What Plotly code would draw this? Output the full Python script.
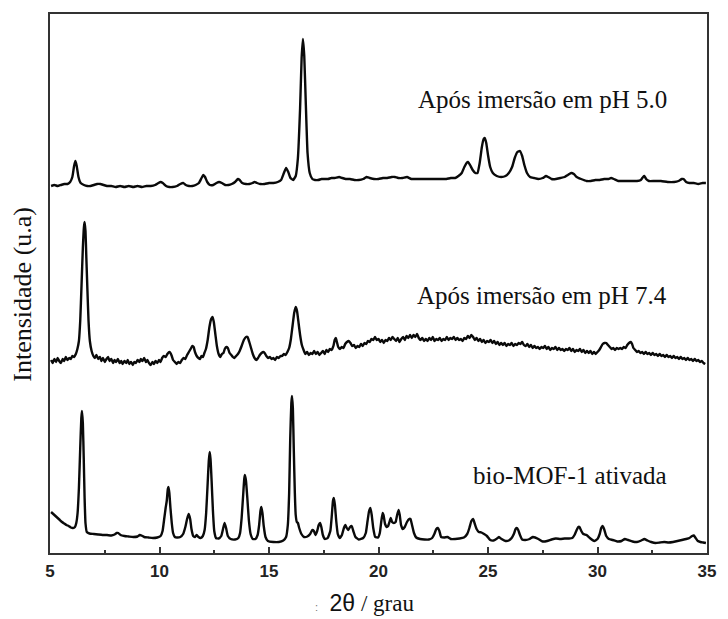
import plotly.graph_objects as go

# XRD patterns: (2θ in degrees, intensity in a.u. as stacked in the figure)
ph50_points = [
    (5.05, 367), (5.2, 368), (5.35, 367), (5.5, 368), (5.65, 369), (5.8, 369), (5.92, 371), (6.02, 376),
    (6.1, 387), (6.16, 392), (6.22, 387), (6.3, 376), (6.4, 370), (6.55, 368), (6.7, 367), (6.85, 367),
    (7.0, 368), (7.15, 369), (7.3, 369), (7.45, 368), (7.6, 367), (7.8, 367), (8.0, 366), (8.2, 367),
    (8.4, 366), (8.6, 367), (8.8, 366), (9.0, 367), (9.2, 366), (9.4, 367), (9.6, 367), (9.8, 368),
    (9.95, 370), (10.05, 371), (10.15, 370), (10.3, 367), (10.45, 366), (10.6, 366), (10.8, 367),
    (10.95, 369), (11.08, 370), (11.2, 368), (11.35, 367), (11.5, 367), (11.65, 368), (11.8, 370),
    (11.92, 375), (12.0, 378), (12.08, 376), (12.18, 371), (12.3, 368), (12.45, 368), (12.6, 370),
    (12.72, 371), (12.85, 370), (13.0, 368), (13.15, 368), (13.3, 369), (13.45, 371), (13.58, 374),
    (13.66, 373), (13.78, 370), (13.95, 369), (14.1, 369), (14.25, 370), (14.34, 371), (14.45, 370),
    (14.6, 369), (14.8, 369), (15.0, 370), (15.2, 370), (15.4, 371), (15.55, 373), (15.68, 380),
    (15.78, 385), (15.88, 381), (15.98, 375), (16.1, 373), (16.22, 377), (16.32, 395), (16.42, 445),
    (16.49, 495), (16.55, 514), (16.61, 497), (16.68, 450), (16.76, 400), (16.86, 380), (16.98, 374),
    (17.1, 373), (17.25, 373), (17.4, 374), (17.55, 374), (17.7, 374), (17.85, 375), (18.0, 375),
    (18.2, 376), (18.35, 375), (18.5, 374), (18.7, 374), (18.9, 373), (19.1, 373), (19.3, 374),
    (19.45, 376), (19.6, 375), (19.8, 374), (20.0, 374), (20.2, 375), (20.4, 375), (20.6, 376),
    (20.75, 376), (20.9, 375), (21.1, 375), (21.3, 376), (21.5, 374), (21.7, 374), (21.9, 374),
    (22.1, 374), (22.3, 374), (22.5, 374), (22.7, 374), (22.9, 374), (23.1, 374), (23.3, 375),
    (23.5, 375), (23.65, 377), (23.8, 380), (23.92, 386), (24.02, 390), (24.09, 391), (24.18, 388),
    (24.3, 383), (24.42, 380), (24.52, 380), (24.62, 390), (24.72, 406), (24.8, 414), (24.85, 415),
    (24.92, 410), (25.0, 398), (25.1, 386), (25.22, 380), (25.4, 377), (25.6, 376), (25.8, 377),
    (25.95, 380), (26.1, 386), (26.22, 395), (26.34, 401), (26.46, 402), (26.56, 397), (26.66, 388),
    (26.78, 380), (26.92, 376), (27.1, 375), (27.3, 374), (27.5, 375), (27.65, 377), (27.75, 376),
    (27.9, 374), (28.1, 374), (28.3, 375), (28.5, 376), (28.65, 378), (28.8, 380), (28.92, 379),
    (29.05, 376), (29.25, 374), (29.5, 372), (29.7, 372), (29.9, 373), (30.1, 373), (30.3, 374),
    (30.5, 374), (30.62, 375), (30.75, 374), (30.95, 372), (31.2, 372), (31.5, 372), (31.8, 372),
    (31.98, 373), (32.08, 376), (32.14, 377), (32.22, 374), (32.35, 372), (32.6, 372), (32.9, 372),
    (33.2, 371), (33.5, 371), (33.7, 372), (33.85, 374), (33.93, 374), (34.05, 371), (34.2, 370),
    (34.4, 370), (34.6, 369), (34.8, 370), (34.95, 370),
]

ph74_points = [
    (5.05, 193), (5.12, 190), (5.2, 194), (5.28, 191), (5.35, 195), (5.42, 192), (5.5, 190), (5.58, 194),
    (5.65, 192), (5.72, 196), (5.8, 193), (5.88, 195), (5.95, 194), (6.02, 197), (6.1, 196), (6.18, 199),
    (6.25, 204), (6.32, 212), (6.38, 232), (6.44, 268), (6.5, 305), (6.55, 326), (6.58, 331), (6.62, 322),
    (6.66, 295), (6.71, 262), (6.76, 232), (6.82, 212), (6.9, 202), (6.98, 197), (7.05, 195), (7.12, 198),
    (7.2, 194), (7.28, 196), (7.35, 192), (7.42, 195), (7.5, 191), (7.58, 194), (7.65, 196), (7.72, 192),
    (7.8, 194), (7.88, 190), (7.95, 193), (8.02, 191), (8.1, 194), (8.18, 190), (8.25, 192), (8.32, 189),
    (8.4, 192), (8.48, 190), (8.55, 193), (8.62, 189), (8.7, 191), (8.78, 188), (8.85, 191), (8.92, 190),
    (9.0, 193), (9.08, 191), (9.15, 194), (9.22, 192), (9.3, 195), (9.38, 191), (9.45, 193), (9.52, 190),
    (9.6, 188), (9.68, 191), (9.75, 189), (9.82, 192), (9.9, 190), (9.98, 193), (10.05, 191), (10.12, 195),
    (10.2, 197), (10.28, 196), (10.36, 199), (10.44, 201), (10.5, 200), (10.56, 197), (10.62, 193),
    (10.7, 191), (10.78, 189), (10.86, 191), (10.94, 190), (11.02, 193), (11.1, 195), (11.18, 194),
    (11.26, 198), (11.34, 201), (11.42, 204), (11.5, 207), (11.56, 206), (11.62, 201), (11.7, 197),
    (11.78, 195), (11.85, 194), (11.92, 197), (11.98, 196), (12.05, 200), (12.12, 204), (12.2, 213),
    (12.28, 226), (12.36, 234), (12.42, 236), (12.48, 231), (12.55, 219), (12.62, 207), (12.7, 199),
    (12.78, 196), (12.85, 199), (12.92, 200), (12.98, 204), (13.05, 206), (13.12, 205), (13.2, 200),
    (13.28, 198), (13.35, 196), (13.42, 195), (13.5, 197), (13.58, 199), (13.66, 202), (13.75, 207),
    (13.85, 213), (13.95, 216), (14.02, 216), (14.1, 211), (14.18, 205), (14.26, 199), (14.34, 195),
    (14.42, 193), (14.5, 195), (14.58, 198), (14.66, 200), (14.74, 201), (14.8, 200), (14.88, 197),
    (14.96, 195), (15.04, 196), (15.12, 194), (15.2, 195), (15.28, 193), (15.36, 196), (15.44, 195),
    (15.52, 197), (15.6, 197), (15.68, 199), (15.76, 198), (15.84, 201), (15.92, 205), (16.0, 214),
    (16.08, 228), (16.15, 240), (16.22, 246), (16.28, 242), (16.35, 230), (16.42, 218), (16.5, 208),
    (16.58, 203), (16.66, 199), (16.74, 201), (16.82, 198), (16.9, 200), (16.98, 199), (17.06, 202),
    (17.14, 199), (17.22, 201), (17.3, 198), (17.38, 200), (17.46, 202), (17.54, 199), (17.62, 203),
    (17.7, 201), (17.78, 204), (17.86, 203), (17.94, 207), (18.0, 213), (18.05, 215), (18.1, 211),
    (18.16, 206), (18.24, 204), (18.32, 206), (18.4, 205), (18.48, 209), (18.56, 211), (18.64, 212),
    (18.72, 210), (18.8, 207), (18.88, 208), (18.96, 205), (19.04, 207), (19.12, 206), (19.2, 209),
    (19.28, 207), (19.36, 210), (19.44, 209), (19.52, 212), (19.6, 211), (19.68, 214), (19.76, 213),
    (19.84, 216), (19.92, 213), (20.0, 214), (20.08, 211), (20.16, 213), (20.24, 210), (20.32, 213),
    (20.4, 212), (20.48, 215), (20.56, 213), (20.64, 216), (20.72, 214), (20.8, 212), (20.88, 215),
    (20.96, 211), (21.04, 214), (21.12, 216), (21.2, 213), (21.28, 217), (21.36, 215), (21.44, 218),
    (21.52, 215), (21.6, 218), (21.68, 216), (21.76, 219), (21.84, 215), (21.92, 213), (22.0, 215),
    (22.08, 212), (22.16, 214), (22.24, 212), (22.32, 215), (22.4, 213), (22.48, 216), (22.56, 212),
    (22.64, 214), (22.72, 213), (22.8, 215), (22.88, 212), (22.96, 214), (23.04, 213), (23.12, 216),
    (23.2, 213), (23.28, 215), (23.36, 214), (23.44, 216), (23.52, 213), (23.6, 215), (23.68, 213),
    (23.76, 214), (23.84, 212), (23.92, 215), (24.0, 214), (24.08, 217), (24.16, 215), (24.24, 218),
    (24.32, 216), (24.4, 213), (24.48, 215), (24.56, 212), (24.64, 214), (24.72, 211), (24.8, 213),
    (24.88, 210), (24.96, 212), (25.04, 211), (25.12, 213), (25.2, 210), (25.28, 212), (25.36, 209),
    (25.44, 211), (25.52, 208), (25.6, 210), (25.68, 208), (25.76, 210), (25.84, 207), (25.92, 209),
    (26.0, 208), (26.08, 210), (26.16, 207), (26.24, 209), (26.32, 208), (26.4, 210), (26.48, 209),
    (26.56, 211), (26.64, 208), (26.72, 207), (26.8, 209), (26.88, 206), (26.96, 208), (27.04, 205),
    (27.12, 207), (27.2, 205), (27.28, 206), (27.36, 204), (27.44, 206), (27.52, 205), (27.6, 207),
    (27.68, 204), (27.76, 206), (27.84, 203), (27.92, 205), (28.0, 204), (28.08, 206), (28.16, 203),
    (28.24, 205), (28.32, 203), (28.4, 204), (28.48, 202), (28.56, 204), (28.64, 203), (28.72, 205),
    (28.8, 202), (28.88, 204), (28.96, 201), (29.04, 203), (29.12, 202), (29.2, 204), (29.28, 201),
    (29.36, 203), (29.44, 200), (29.52, 202), (29.6, 200), (29.68, 202), (29.76, 199), (29.84, 201),
    (29.92, 199), (30.0, 201), (30.08, 203), (30.16, 206), (30.24, 209), (30.32, 210), (30.4, 210),
    (30.48, 208), (30.56, 206), (30.64, 204), (30.72, 205), (30.8, 203), (30.88, 205), (30.96, 204),
    (31.04, 205), (31.12, 204), (31.2, 206), (31.28, 205), (31.36, 208), (31.44, 210), (31.52, 211),
    (31.58, 209), (31.64, 205), (31.72, 203), (31.8, 201), (31.88, 202), (31.96, 200), (32.04, 201),
    (32.12, 199), (32.2, 201), (32.28, 199), (32.36, 200), (32.44, 198), (32.52, 200), (32.6, 198),
    (32.68, 199), (32.76, 197), (32.84, 199), (32.92, 197), (33.0, 198), (33.08, 196), (33.16, 198),
    (33.24, 196), (33.32, 197), (33.4, 195), (33.48, 197), (33.56, 195), (33.64, 196), (33.72, 194),
    (33.8, 196), (33.88, 194), (33.96, 195), (34.04, 193), (34.12, 195), (34.2, 193), (34.28, 194),
    (34.36, 192), (34.44, 194), (34.52, 192), (34.6, 193), (34.68, 191), (34.76, 192), (34.84, 190),
    (34.92, 189),
]

bio_points = [
    (5.05, 41), (5.15, 39), (5.25, 37), (5.35, 35), (5.45, 33), (5.55, 31), (5.65, 29.5), (5.75, 28),
    (5.85, 27), (5.95, 25.5), (6.05, 25), (6.14, 26), (6.2, 30), (6.26, 40), (6.32, 65), (6.38, 105),
    (6.43, 135), (6.46, 142), (6.5, 130), (6.54, 95), (6.58, 55), (6.62, 30), (6.68, 21), (6.8, 19.5),
    (7.0, 19), (7.2, 18.5), (7.4, 18), (7.6, 18), (7.8, 17.5), (7.95, 18.5), (8.05, 20), (8.12, 20),
    (8.22, 18), (8.4, 17), (8.6, 16.5), (8.8, 16), (9.0, 16.5), (9.1, 18), (9.18, 17.5), (9.3, 16),
    (9.5, 15.5), (9.7, 15), (9.9, 15.5), (10.05, 17), (10.14, 22), (10.22, 35), (10.28, 45), (10.33, 52),
    (10.38, 64), (10.41, 66), (10.45, 60), (10.5, 45), (10.56, 30), (10.62, 20), (10.7, 16), (10.8, 15.5),
    (10.95, 16), (11.08, 19), (11.18, 26), (11.26, 34), (11.33, 39), (11.4, 34), (11.46, 24), (11.54, 17),
    (11.62, 16), (11.7, 18), (11.78, 16), (11.88, 15), (11.98, 17), (12.06, 23), (12.13, 40), (12.2, 70),
    (12.25, 92), (12.29, 101), (12.33, 94), (12.38, 72), (12.44, 42), (12.5, 22), (12.58, 15), (12.7, 14.5),
    (12.82, 17), (12.9, 24), (12.97, 30), (13.04, 25), (13.12, 17), (13.25, 14), (13.45, 13.5), (13.6, 15),
    (13.68, 20), (13.75, 35), (13.82, 58), (13.87, 74), (13.9, 78), (13.95, 72), (14.01, 55), (14.08, 33),
    (14.16, 19), (14.26, 14), (14.38, 14), (14.48, 18), (14.55, 28), (14.61, 42), (14.65, 46), (14.7, 40),
    (14.76, 27), (14.84, 16), (14.95, 12), (15.2, 11), (15.45, 11), (15.65, 12.5), (15.78, 16), (15.86, 28),
    (15.92, 60), (15.97, 115), (16.02, 150), (16.05, 157), (16.09, 145), (16.13, 105), (16.18, 60),
    (16.22, 38), (16.27, 31), (16.32, 30), (16.38, 25), (16.48, 19), (16.6, 16), (16.75, 16.5), (16.88, 19),
    (16.98, 23), (17.05, 22), (17.12, 18), (17.2, 22), (17.27, 28), (17.33, 30), (17.39, 26), (17.46, 18),
    (17.55, 14), (17.68, 15), (17.8, 22), (17.87, 38), (17.92, 52), (17.96, 55), (18.01, 48), (18.07, 32),
    (18.14, 19), (18.23, 15), (18.33, 18), (18.42, 25), (18.49, 28), (18.55, 25), (18.62, 23), (18.7, 26),
    (18.78, 27), (18.85, 22), (18.95, 16), (19.1, 13.5), (19.3, 15), (19.42, 20), (19.5, 32), (19.57, 42),
    (19.63, 45), (19.69, 38), (19.76, 25), (19.85, 16), (19.98, 15.5), (20.06, 20), (20.13, 32), (20.19, 40),
    (20.23, 38), (20.3, 29), (20.37, 26), (20.44, 27), (20.5, 31), (20.56, 35), (20.62, 31), (20.7, 30),
    (20.78, 31), (20.85, 38), (20.92, 43), (20.97, 38), (21.03, 28), (21.1, 24), (21.2, 26), (21.3, 31),
    (21.4, 34), (21.46, 34), (21.53, 28), (21.62, 20), (21.72, 15.5), (21.9, 14), (22.1, 13.5), (22.3, 13.5),
    (22.45, 15), (22.55, 19), (22.64, 24), (22.71, 25), (22.78, 22), (22.86, 16), (23.0, 15.5), (23.15, 16),
    (23.3, 14), (23.5, 14), (23.7, 14.5), (23.9, 15.5), (24.05, 19), (24.15, 25), (24.24, 32), (24.32, 34),
    (24.4, 29), (24.48, 24), (24.58, 21), (24.7, 20.5), (24.82, 19), (24.95, 17), (25.1, 13), (25.25, 12.5),
    (25.38, 14), (25.5, 16), (25.62, 14), (25.8, 12), (25.95, 12.5), (26.08, 15), (26.18, 19), (26.26, 24),
    (26.32, 25), (26.38, 23), (26.46, 18), (26.56, 13.5), (26.7, 13), (26.9, 14), (27.05, 16), (27.15, 15.5),
    (27.3, 14), (27.5, 11.5), (27.7, 12), (27.9, 13.5), (28.1, 14.5), (28.3, 14), (28.5, 14.5), (28.7, 14.5),
    (28.85, 15), (28.95, 18), (29.05, 23), (29.12, 26), (29.18, 26), (29.26, 22), (29.35, 19), (29.5, 18),
    (29.65, 15), (29.85, 12), (30.0, 14), (30.1, 19), (30.17, 25), (30.23, 27), (30.3, 24), (30.4, 17),
    (30.52, 14), (30.7, 13), (30.9, 11.5), (31.1, 12), (31.25, 14), (31.4, 13), (31.6, 11.5), (31.8, 11),
    (32.0, 12.5), (32.14, 14), (32.28, 12.5), (32.45, 11), (32.65, 10), (32.85, 10.5), (33.05, 11),
    (33.25, 10.5), (33.45, 11), (33.65, 12), (33.85, 13), (34.05, 14), (34.2, 15), (34.32, 17), (34.4, 17.5),
    (34.48, 15), (34.58, 12), (34.7, 11), (34.82, 10.5), (34.95, 10),
]

labels = ["Após imersão em pH 5.0", "Após imersão em pH 7.4", "bio-MOF-1 ativada"]
label_y = [454, 258, 78]
label_x = 33.25

x_ticks = [5, 10, 15, 20, 25, 30, 35]

SERIF = "Times New Roman, Liberation Serif, serif"

fig = go.Figure()
for pts in (ph50_points, ph74_points, bio_points):
    xs = [p[0] for p in pts]
    ys = [p[1] for p in pts]
    fig.add_trace(go.Scatter(x=xs, y=ys, mode="lines",
                             line=dict(color="#0a0a0a", width=2.4, shape="spline", smoothing=0.4),
                             showlegend=False, hoverinfo="skip"))

for txt, ly in zip(labels, label_y):
    fig.add_annotation(x=label_x, y=ly, xref="x", yref="y", text=txt, showarrow=False,
                       xanchor="right", yanchor="middle",
                       font=dict(family=SERIF, size=25, color="#111111"))

fig.add_annotation(
    x=0.478, y=-0.093, xref="paper", yref="paper", showarrow=False,
    xanchor="center", yanchor="middle",
    text='<span style="font-family:Liberation Sans;font-size:11px;color:#777">:</span>  '
         '<span style="font-family:Liberation Sans">2θ</span> / grau',
    font=dict(family=SERIF, size=23, color="#111111"))
fig.add_annotation(
    x=-0.042, y=0.48, xref="paper", yref="paper", showarrow=False, textangle=-90,
    xanchor="center", yanchor="middle", text="Intensidade (u.a)",
    font=dict(family=SERIF, size=26, color="#111111"))

fig.update_xaxes(range=[5, 35], tickvals=x_ticks, ticktext=[str(t) for t in x_ticks],
                 ticks="inside", ticklen=6, tickwidth=1.5, tickcolor="#333333",
                 minor=dict(dtick=2.5, tick0=5, ticks="inside", ticklen=3, tickwidth=1.5, tickcolor="#333333"),
                 showline=True, linewidth=2, linecolor="#333333", mirror=True,
                 showgrid=False, zeroline=False,
                 tickfont=dict(family="Liberation Sans", size=17, color="#222222", weight="bold"),
                 ticklabelstandoff=2)
fig.update_yaxes(range=[0, 539], showticklabels=False, ticks="",
                 showline=True, linewidth=2, linecolor="#333333", mirror=True,
                 showgrid=False, zeroline=False)

fig.update_layout(width=728, height=619, margin=dict(l=50, r=13, t=14, b=66),
                  paper_bgcolor="white", plot_bgcolor="white")

fig.write_html("out.html")
